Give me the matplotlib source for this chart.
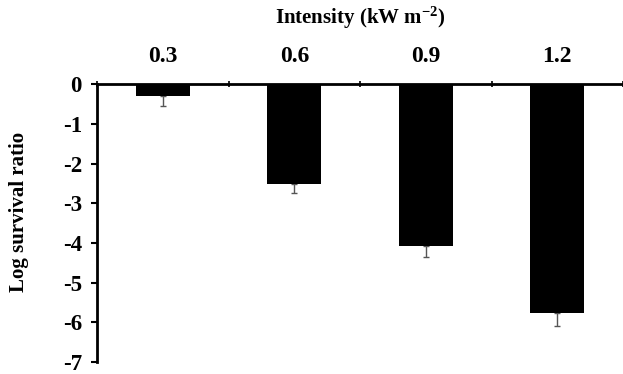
import matplotlib
matplotlib.use("Agg")
import matplotlib.pyplot as plt
import numpy as np

categories = ["0.3", "0.6", "0.9", "1.2"]
values = [-0.30, -2.52, -4.07, -5.77]
errors = [0.25, 0.22, 0.28, 0.33]
yticks = [0, -1, -2, -3, -4, -5, -6, -7]

plt.rcParams['font.family'] = ['Liberation Serif', 'DejaVu Serif']
plt.rcParams['font.weight'] = 'bold'
plt.rcParams['mathtext.fontset'] = 'custom'
plt.rcParams['mathtext.rm'] = 'Liberation Serif:bold'
plt.rcParams['mathtext.bf'] = 'Liberation Serif:bold'
plt.rcParams['mathtext.default'] = 'bf'

fig = plt.figure(figsize=(6.23, 3.74), dpi=100)
ax = fig.add_axes([0.156, 0.032, 0.844, 0.743])

x = np.arange(len(categories))
lower = np.array(errors)
ax.bar(x, values, width=0.41, color='black', zorder=2)
ax.errorbar(x, values, yerr=[lower, np.zeros_like(lower)], fmt='none',
            ecolor='#555555', elinewidth=1, capsize=2, capthick=1, zorder=1)

ax.set_xlim(-0.5, 3.5)
ax.set_ylim(-7, 0)
ax.set_yticks(yticks)
ax.set_yticklabels([str(v) for v in yticks], fontsize=16.5, fontweight='bold')

ax.xaxis.set_ticks_position('top')
ax.xaxis.set_label_position('top')
ax.set_xticks(x)
ax.set_xticklabels(categories, fontsize=17, fontweight='bold')
ax.tick_params(axis='x', which='major', length=0, pad=12)
ax.set_xticks(np.arange(-0.5, 4.0, 1.0), minor=True)
ax.tick_params(axis='x', which='minor', length=4, width=1.2, direction='inout')
ax.tick_params(axis='y', length=4, width=1.5, direction='out', pad=7)

for s in ['right', 'bottom']:
    ax.spines[s].set_visible(False)
ax.spines['top'].set_linewidth(2)
ax.spines['left'].set_linewidth(2)

ax.set_xlabel("Intensity (kW m$^{-2}$)", fontsize=15, fontweight='bold')
ax.xaxis.label.set_va('center')
ax.xaxis.set_label_coords(0.5, 1.237)
ax.set_ylabel("Log survival ratio", fontsize=15, fontweight='bold')
ax.yaxis.label.set_va('center')
ax.yaxis.set_label_coords(-0.148, 0.54)

fig.savefig("out.png", dpi=100)
